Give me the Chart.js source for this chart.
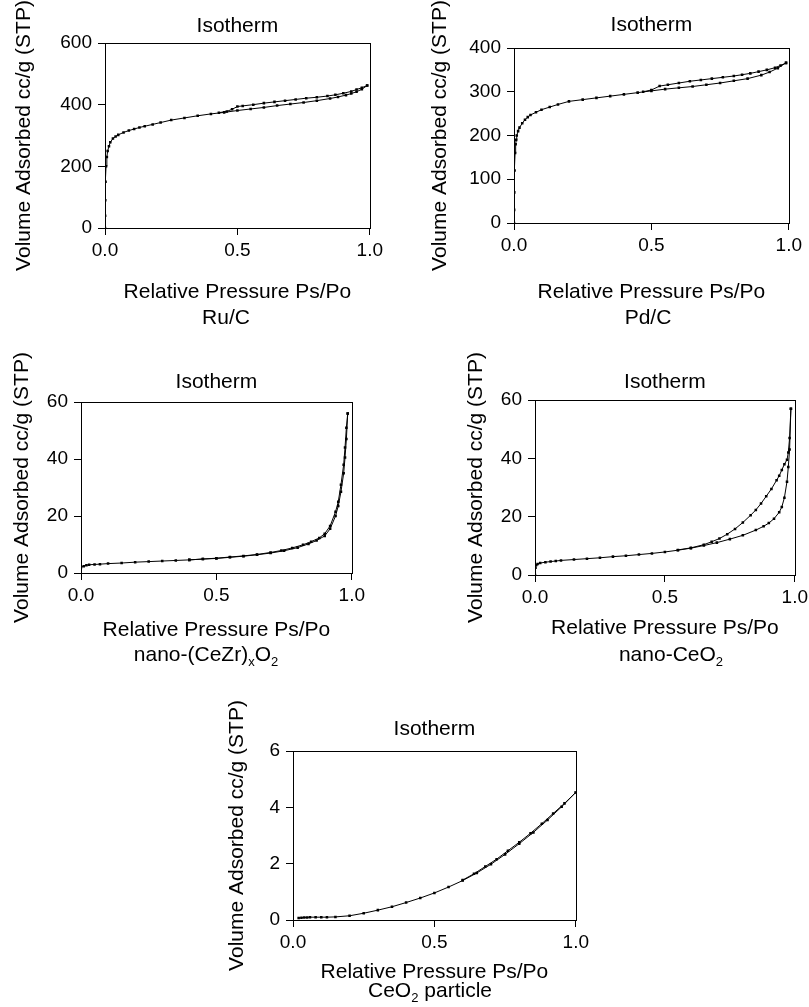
<!DOCTYPE html>
<html>
<head>
<meta charset="utf-8">
<script src="https://cdn.jsdelivr.net/npm/chart.js@4.4.1/dist/chart.umd.min.js"></script>
<style>
  html, body { margin: 0; padding: 0; background: #fff; overflow: hidden; }
  #page { position: relative; width: 809px; height: 1007px; }
  canvas { position: absolute; }
  .caption {
    position: absolute;
    font-family: "Liberation Sans", Arial, sans-serif;
    font-size: 21px;
    line-height: 25px;
    color: #000;
    white-space: nowrap;
    transform: translate(-50%, -50%);
  }
  .caption sub { font-size: 13px; vertical-align: -5px; }
</style>
</head>
<body>
<div id="page"></div>
<script>
// Ru/C
var ruAdsP = [0.0, 0.0005, 0.001, 0.002, 0.004, 0.007, 0.01, 0.015, 0.02, 0.03, 0.04, 0.05, 0.07, 0.09, 0.11, 0.13, 0.15, 0.18, 0.21, 0.25, 0.3, 0.35, 0.4, 0.45, 0.5, 0.55, 0.6, 0.65, 0.7, 0.75, 0.8, 0.85, 0.88, 0.91, 0.93, 0.95, 0.97, 0.99];
var ruAdsV = [0, 40, 90, 150, 200, 230, 250, 265, 278, 290, 297, 302, 310, 316, 321, 326, 330, 336, 342, 350, 357, 364, 370, 375, 381, 386, 391, 397, 402, 407, 413, 420, 425, 431, 436, 442, 450, 462];
var ruDesP = [0.99, 0.97, 0.95, 0.93, 0.9, 0.87, 0.84, 0.8, 0.76, 0.72, 0.68, 0.64, 0.6, 0.56, 0.52, 0.5, 0.48, 0.46, 0.43];
var ruDesV = [462, 455, 449, 443, 437, 432, 428, 424, 421, 417, 413, 409, 405, 400, 396, 394, 385, 378, 374];

// Pd/C
var pdAdsP = [0.0, 0.0005, 0.001, 0.002, 0.004, 0.006, 0.008, 0.01, 0.015, 0.02, 0.03, 0.04, 0.05, 0.06, 0.08, 0.1, 0.13, 0.16, 0.2, 0.25, 0.3, 0.35, 0.4, 0.45, 0.5, 0.55, 0.6, 0.65, 0.7, 0.75, 0.8, 0.85, 0.9, 0.93, 0.96, 0.99];
var pdAdsV = [0, 30, 70, 120, 160, 180, 190, 200, 210, 218, 228, 236, 242, 247, 253, 259, 265, 271, 278, 282, 286, 290, 294, 298, 302, 306, 309, 312, 316, 320, 325, 330, 338, 345, 354, 366];
var pdDesP = [0.99, 0.97, 0.95, 0.92, 0.89, 0.86, 0.83, 0.8, 0.76, 0.72, 0.68, 0.64, 0.6, 0.56, 0.53, 0.5, 0.47];
var pdDesV = [366, 360, 355, 350, 346, 342, 339, 336, 333, 330, 327, 324, 320, 316, 313, 304, 300];

// nano-(CeZr)xO2
var czAdsP = [0.0, 0.01, 0.02, 0.03, 0.05, 0.07, 0.1, 0.15, 0.2, 0.25, 0.3, 0.35, 0.4, 0.45, 0.5, 0.55, 0.6, 0.65, 0.7, 0.75, 0.8, 0.84, 0.87, 0.9, 0.92, 0.94, 0.95, 0.96, 0.97, 0.975, 0.98, 0.985];
var czAdsV = [2.0, 2.4, 2.7, 2.9, 3.0, 3.1, 3.3, 3.5, 3.8, 4.0, 4.2, 4.4, 4.6, 4.9, 5.1, 5.5, 5.9, 6.4, 7.0, 7.8, 8.9, 10.2, 11.4, 13.0, 15.5, 20.0, 23.5, 28.5, 35.0, 40.5, 47.0, 56.0];
var czDesP = [0.985, 0.98, 0.975, 0.97, 0.96, 0.95, 0.94, 0.92, 0.9, 0.88, 0.85, 0.82, 0.78, 0.74, 0.7, 0.65, 0.6, 0.55, 0.5, 0.45, 0.4];
var czDesV = [56.0, 51.0, 44.0, 38.0, 31.0, 25.0, 21.5, 16.5, 13.8, 12.3, 11.0, 9.9, 8.8, 7.9, 7.2, 6.5, 6.0, 5.6, 5.2, 4.9, 4.6];

// nano-CeO2
var ceAdsP = [0.0, 0.002, 0.005, 0.01, 0.02, 0.04, 0.06, 0.08, 0.1, 0.15, 0.2, 0.25, 0.3, 0.35, 0.4, 0.45, 0.5, 0.55, 0.6, 0.65, 0.7, 0.75, 0.8, 0.85, 0.88, 0.9, 0.92, 0.94, 0.95, 0.96, 0.97, 0.975, 0.98, 0.985];
var ceAdsV = [0.0, 2.5, 3.4, 3.8, 4.1, 4.4, 4.6, 4.8, 5.0, 5.3, 5.6, 5.9, 6.3, 6.6, 7.0, 7.4, 7.9, 8.5, 9.2, 10.1, 11.1, 12.3, 13.6, 15.4, 16.7, 17.8, 19.3, 21.5, 23.3, 26.5, 32.0, 37.0, 43.0, 57.0];
var ceDesP = [0.985, 0.98, 0.975, 0.97, 0.96, 0.95, 0.94, 0.93, 0.91, 0.89, 0.87, 0.85, 0.83, 0.8, 0.77, 0.74, 0.71, 0.68, 0.65, 0.6, 0.55];
var ceDesV = [57.0, 47.0, 42.0, 39.5, 38.0, 36.0, 34.0, 32.5, 29.5, 27.0, 24.5, 22.3, 20.5, 18.0, 15.8, 14.0, 12.5, 11.4, 10.4, 9.3, 8.6];

// CeO2 particle
var cpAdsP = [0.02, 0.03, 0.04, 0.05, 0.06, 0.08, 0.1, 0.12, 0.15, 0.2, 0.25, 0.3, 0.35, 0.4, 0.45, 0.5, 0.55, 0.6, 0.65, 0.7, 0.75, 0.8, 0.85, 0.9, 0.95, 1.0];
var cpAdsV = [0.07, 0.08, 0.09, 0.09, 0.1, 0.1, 0.1, 0.1, 0.11, 0.15, 0.24, 0.35, 0.47, 0.62, 0.78, 0.96, 1.17, 1.4, 1.67, 1.98, 2.33, 2.71, 3.11, 3.55, 4.02, 4.53];
var cpDesP = [1.0, 0.96, 0.92, 0.88, 0.84, 0.8, 0.76, 0.72, 0.68, 0.64, 0.6];
var cpDesV = [4.53, 4.14, 3.78, 3.42, 3.08, 2.76, 2.46, 2.16, 1.9, 1.64, 1.42];

var xTicks = [0, 0.5, 1.0];
var chartTitle = 'Isotherm';
var xTitle = 'Relative Pressure Ps/Po';
var yTitle = 'Volume Adsorbed cc/g (STP)';

var FONT = '"Liberation Sans", Arial, sans-serif';
var TEXT_SIZE = 21;
var LINE_H = TEXT_SIZE * 1.2;
var EXTRA_TOP = 45; // room above the plot so the long y title is not clipped

// panel placement: plot box [left, top, right, bottom] plus text anchors
var panels = [
  { ads: [ruAdsP, ruAdsV], des: [ruDesP, ruDesV], yMax: 600, yStep: 200,
    plot: [105, 43, 371, 228], titleY: 27, yTitleX: 25, xTitleY: 292,
    caption: 'Ru/C', capX: 226, capY: 316 },
  { ads: [pdAdsP, pdAdsV], des: [pdDesP, pdDesV], yMax: 400, yStep: 100,
    plot: [514, 48, 790, 223], titleY: 26, yTitleX: 441, xTitleY: 292,
    caption: 'Pd/C', capX: 648, capY: 316 },
  { ads: [czAdsP, czAdsV], des: [czDesP, czDesV], yMax: 60, yStep: 20,
    plot: [81, 402, 353, 573], titleY: 383, yTitleX: 23, xTitleY: 630,
    caption: 'nano-(CeZr)<sub>x</sub>O<sub>2</sub>', capX: 206, capY: 657 },
  { ads: [ceAdsP, ceAdsV], des: [ceDesP, ceDesV], yMax: 60, yStep: 20,
    plot: [535, 400, 796, 575], titleY: 383, yTitleX: 477, xTitleY: 628,
    caption: 'nano-CeO<sub>2</sub>', capX: 671, capY: 657 },
  { ads: [cpAdsP, cpAdsV], des: [cpDesP, cpDesV], yMax: 6, yStep: 2,
    plot: [293, 751, 577, 920], titleY: 730, yTitleX: 238, xTitleY: 972,
    caption: 'CeO<sub>2</sub> particle', capX: 430, capY: 993 }
];

var framePlugin = {
  id: 'frame',
  afterDraw: function(chart) {
    var a = chart.chartArea, ctx = chart.ctx;
    ctx.save();
    ctx.strokeStyle = '#000';
    ctx.lineWidth = 1;
    ctx.strokeRect(Math.round(a.left) + 0.5, Math.round(a.top) + 0.5,
      Math.round(a.right - a.left), Math.round(a.bottom - a.top));
    ctx.restore();
  }
};

function toPoints(xs, ys) {
  return xs.map(function(x, i) { return { x: x, y: ys[i] }; });
}

function branch(pts) {
  return {
    data: pts,
    showLine: true,
    borderColor: '#000',
    borderWidth: 1,
    backgroundColor: '#000',
    pointStyle: 'rect',
    pointRadius: 1.8,
    pointBorderWidth: 0,
    tension: 0
  };
}

var page = document.getElementById('page');

panels.forEach(function(p) {
  var L = p.plot[0], T = p.plot[1], R = p.plot[2], B = p.plot[3];
  var cLeft = Math.round(p.yTitleX - LINE_H / 2);
  var cTop = Math.round(p.titleY - 4 - LINE_H / 2) - EXTRA_TOP;
  var cRight = R + 16;
  var cBottom = Math.round(p.xTitleY + LINE_H / 2 + 2);
  var yW = L - cLeft;
  var xH = cBottom - B;
  var titleBottomPad = T - cTop - EXTRA_TOP - 4 - LINE_H;

  var canvas = document.createElement('canvas');
  canvas.width = cRight - cLeft;
  canvas.height = cBottom - cTop;
  canvas.style.left = cLeft + 'px';
  canvas.style.top = cTop + 'px';
  page.appendChild(canvas);

  var cap = document.createElement('div');
  cap.className = 'caption';
  cap.innerHTML = p.caption;
  cap.style.left = p.capX + 'px';
  cap.style.top = p.capY + 'px';
  page.appendChild(cap);

  new Chart(canvas.getContext('2d'), {
    type: 'scatter',
    data: {
      datasets: [branch(toPoints(p.ads[0], p.ads[1])), branch(toPoints(p.des[0], p.des[1]))]
    },
    options: {
      responsive: false,
      animation: false,
      layout: { padding: { left: 0, top: EXTRA_TOP, right: 16, bottom: 0 } },
      plugins: {
        legend: { display: false },
        tooltip: { enabled: false },
        title: {
          display: true,
          text: chartTitle,
          fullSize: false,
          color: '#000',
          font: { family: FONT, size: TEXT_SIZE, weight: 'normal', lineHeight: 1.2 },
          padding: { top: 4, bottom: titleBottomPad }
        }
      },
      scales: {
        x: {
          type: 'linear',
          min: 0, max: 1,
          afterBuildTicks: function(s) { s.ticks = xTicks.map(function(v) { return { value: v }; }); },
          afterFit: function(s) { s.height = xH; },
          ticks: {
            color: '#000', padding: 4, maxRotation: 0,
            font: { family: FONT, size: 19 },
            callback: function(v) { return Number(v).toFixed(1); }
          },
          grid: { drawOnChartArea: false, drawTicks: true, tickLength: 7, color: '#000' },
          border: { display: true, color: '#000', width: 1 },
          title: {
            display: true, text: xTitle, color: '#000',
            font: { family: FONT, size: TEXT_SIZE, lineHeight: 1.2 },
            padding: { top: 0, bottom: 2 }
          }
        },
        y: {
          min: 0, max: p.yMax,
          afterFit: function(s) { s.width = yW; },
          ticks: {
            stepSize: p.yStep, color: '#000', padding: 6,
            font: { family: FONT, size: 19 }
          },
          grid: { drawOnChartArea: false, drawTicks: true, tickLength: 7, color: '#000' },
          border: { display: true, color: '#000', width: 1 },
          title: {
            display: true, text: yTitle, color: '#000',
            font: { family: FONT, size: TEXT_SIZE, lineHeight: 1.2 },
            padding: { top: 0, bottom: 0 }
          }
        }
      }
    },
    plugins: [framePlugin]
  });
});
</script>
</body>
</html>
